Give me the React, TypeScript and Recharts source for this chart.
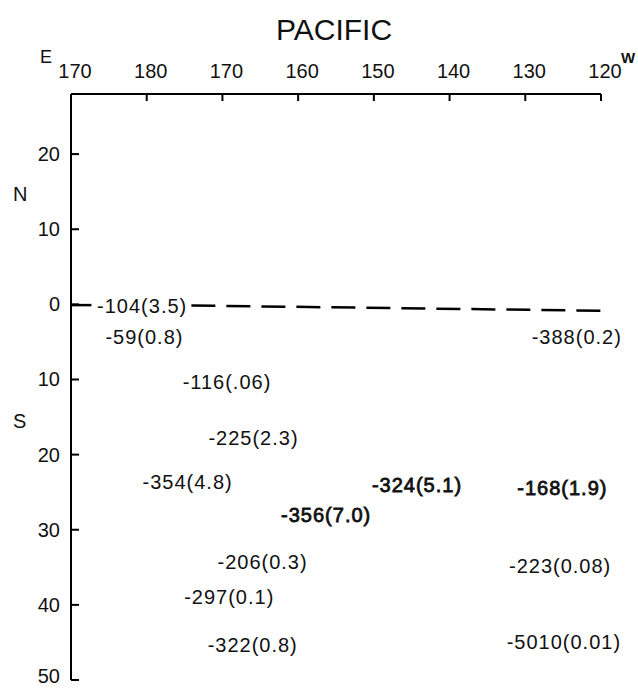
import { ScatterChart, Scatter, XAxis, YAxis, ReferenceLine } from 'recharts';

// longitude measured eastward from 170E (180 = dateline, 240 = 120W)
const lonTicks = [170, 180, 190, 200, 210, 220, 230, 240];
const latTicks = [20, 10, 0, -10, -20, -30, -40, -50];

const siteLabels = [
  '-104(3.5)', '-59(0.8)', '-116(.06)', '-225(2.3)', '-354(4.8)', '-356(7.0)', '-324(5.1)',
  '-168(1.9)', '-206(0.3)', '-223(0.08)', '-297(0.1)', '-322(0.8)', '-5010(0.01)', '-388(0.2)',
];
const siteLon = [179.4, 179.7, 190.6, 194.1, 185.4, 203.7, 215.7, 234.9, 195.3, 234.6, 190.9, 194.0, 235.1, 236.8];
const siteLat = [-0.2, -4.4, -10.4, -17.8, -23.7, -28.0, -24.1, -24.4, -34.3, -34.8, -38.9, -45.3, -45.0, -4.4];
const siteBold = [false, false, false, false, false, true, true, true, false, false, false, false, false, false];

// equator dashed line: short piece at the axis, then the long run after the label
const equatorStubLon = [170, 172.7];
const equatorStubLat = [-0.1, -0.1];
const equatorLon = [185.9, 240];
const equatorLat = [-0.15, -0.85];

const sites = siteLabels.map((label, i) => ({ lon: siteLon[i], lat: siteLat[i], label, bold: siteBold[i] }));

const FONT = '"Liberation Sans", Arial, sans-serif';

const fmtLon = (v: number) => (v <= 180 ? v : 360 - v);

const LonTick = ({ x, y, payload }: any) => (
  <g>
    <line x1={x} y1={y} x2={x} y2={y + 7} stroke="#000" strokeWidth={2} />
    <text x={x + 4} y={y - 16} textAnchor="middle" fontSize={20} fontFamily={FONT} fill="#111">
      {fmtLon(payload.value)}
    </text>
  </g>
);

const LatTick = ({ x, y, payload }: any) => (
  <g>
    <line x1={x} y1={y} x2={x + 8} y2={y} stroke="#000" strokeWidth={2} />
    <text
      x={x - 11}
      y={payload.value === -50 ? y - 4 : y}
      textAnchor="end"
      dominantBaseline="central"
      fontSize={20}
      fontFamily={FONT}
      fill="#111"
    >
      {Math.abs(payload.value)}
    </text>
  </g>
);

const SiteText = (props: any) => {
  const { cx, cy, payload } = props;
  return (
    <text
      x={cx}
      y={cy}
      textAnchor="middle"
      dominantBaseline="central"
      fontSize={20}
      letterSpacing={1}
      fontFamily={FONT}
      fill="#111"
      stroke={payload.bold ? '#111' : 'none'}
      strokeWidth={payload.bold ? 0.8 : 0}
    >
      {payload.label}
    </text>
  );
};

const overlay = (left: number, top: number, size: number, bold = false): React.CSSProperties => ({
  position: 'absolute',
  left,
  top,
  fontSize: size,
  lineHeight: 1,
  fontFamily: FONT,
  fontWeight: bold ? 700 : 400,
  color: '#111',
});

export default function App() {
  return (
    <div style={{ position: 'absolute', left: 0, top: 0, width: 638, height: 689, background: '#fff' }}>
      <ScatterChart width={638} height={689} margin={{ top: 54, right: 37, bottom: 9, left: 31 }}>
        <XAxis
          type="number"
          dataKey="lon"
          orientation="top"
          domain={[170, 240]}
          ticks={lonTicks}
          height={40}
          tickSize={0}
          tickMargin={0}
          tickLine={false}
          axisLine={{ stroke: '#000', strokeWidth: 2 }}
          tick={<LonTick />}
        />
        <YAxis
          type="number"
          dataKey="lat"
          domain={[-50, 28]}
          ticks={latTicks}
          width={40}
          tickSize={0}
          tickMargin={0}
          tickLine={false}
          axisLine={{ stroke: '#000', strokeWidth: 2 }}
          tick={<LatTick />}
        />
        <ReferenceLine
          segment={[
            { x: equatorStubLon[0], y: equatorStubLat[0] },
            { x: equatorStubLon[1], y: equatorStubLat[1] },
          ]}
          stroke="#000"
          strokeWidth={2.5}
        />
        <ReferenceLine
          segment={[
            { x: equatorLon[0], y: equatorLat[0] },
            { x: equatorLon[1], y: equatorLat[1] },
          ]}
          stroke="#000"
          strokeWidth={2.5}
          strokeDasharray="24 11"
        />
        <Scatter data={sites} shape={<SiteText />} isAnimationActive={false} />
      </ScatterChart>
      <div style={overlay(276, 15, 30)}>PACIFIC</div>
      <div style={overlay(40, 48, 18)}>E</div>
      <div style={overlay(621, 50, 15, true)}>W</div>
      <div style={overlay(13, 184, 20)}>N</div>
      <div style={overlay(13, 411, 20)}>S</div>
    </div>
  );
}
